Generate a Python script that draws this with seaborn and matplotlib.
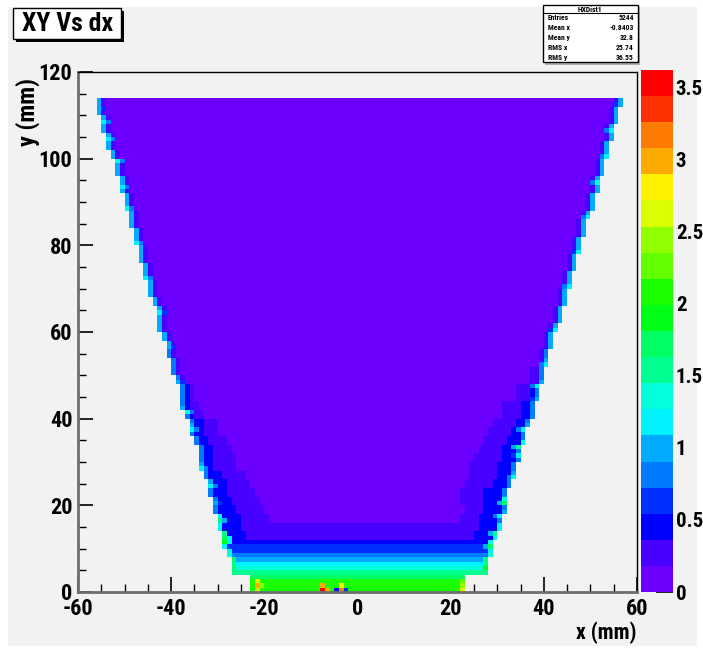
import numpy as np
import matplotlib
matplotlib.use("Agg")
import matplotlib.pyplot as plt
from matplotlib.colors import ListedColormap
from matplotlib.patches import Rectangle
from matplotlib.lines import Line2D
import seaborn as sns

# ---------------------------------------------------------------- data
# 20 contour colours of the palette, lowest to highest
band_colors = ["#6c00ff", "#4800ff", "#0000ff", "#0030ff", "#007bff",
               "#00aaff", "#00f2ff", "#00ffda", "#00ff91", "#00ff62",
               "#00ff18", "#1aff00", "#62ff00", "#91ff00", "#daff00",
               "#fff200", "#ffaa00", "#ff7a00", "#ff3000", "#ff0000"]
z_max = 3.62
cbar_ticks = [0, 0.5, 1, 1.5, 2, 2.5, 3, 3.5]
cbar_labels = ["0", "0.5", "1", "1.5", "2", "2.5", "3", "3.5"]
x_ticks = [-60, -40, -20, 0, 20, 40, 60]
x_labels = ["-60", "-40", "-20", "0", "20", "40", "60"]
y_ticks = [0, 20, 40, 60, 80, 100, 120]
y_labels = ["0", "20", "40", "60", "80", "100", "120"]

x_bin_edges = np.arange(-60, 61, 1)
y_bin_edges = np.arange(0, 115, 1)

# left / right boundary of the filled region (mm), one value per 2 mm slice
left_edge = [-22.6, -22.6, -26.8, -27.2, -27.6, -28.6, -29.0, -29.8, -30.0, -30.6,
             -31.4, -31.6, -32.3, -32.6, -33.6, -33.8, -34.2, -35.2, -36.2, -36.0,
             -36.8, -37.6, -38.0, -38.4, -39.4, -39.6, -40.2, -41.0, -41.2, -41.8,
             -42.6, -43.0, -43.4, -44.0, -44.6, -45.2, -45.6, -46.2, -46.8, -47.2,
             -47.6, -48.4, -48.8, -49.2, -49.8, -50.4, -50.8, -51.2, -52.0, -52.4,
             -52.8, -53.6, -53.8, -54.6, -55.2, -55.6, -56.2]
right_edge = [23.0, 23.4, 27.6, 28.2, 28.8, 29.2, 30.2, 30.6, 31.0, 31.8,
              32.0, 32.4, 33.0, 33.8, 34.2, 34.6, 35.4, 36.0, 36.4, 36.8,
              37.6, 37.8, 38.6, 39.2, 39.6, 40.2, 40.8, 41.4, 41.8, 42.4,
              43.0, 43.6, 44.0, 44.6, 45.2, 45.6, 46.2, 46.8, 47.4, 47.8,
              48.4, 49.0, 49.4, 50.0, 50.6, 51.0, 51.6, 52.2, 52.6, 53.2,
              53.8, 54.2, 54.8, 55.2, 55.8, 56.2, 56.6]

interior_level = 0.1
# level of the dense rows along the bottom (one per 1 mm row, from y = 0)
floor_rows = [2.05, 2.05, 2.0, 1.75, 1.55, 1.3, 1.15, 0.95, 0.8, 0.68,
              0.55, 0.42, 0.33, 0.28, 0.22, 0.19]

# side halo, one value per 4 mm slice: widths (in cells) of the
# second and of the third contour zone
halo2_left = [6, 7, 9, 10, 10.5, 10, 9, 8, 7, 5.5, 4, 2.5, 1.5, 1, 1, 0.5,
              0, 0, 0, 0, 0, 0, 0, 0, 0, 0, 0, 0, 0]
halo2_right = [6, 7, 8, 9, 9, 9.5, 10, 10, 9, 8, 7, 5, 3, 2, 1.5, 1,
               0.5, 0, 0, 0, 0, 0, 0, 0, 0, 0, 0, 0, 0]
halo3_left = [4, 4, 4, 5, 5, 4, 3.5, 3, 3, 2.5, 2, 1.5, 1, 0.5, 0, 0,
              0, 0, 0, 0, 0, 0, 0, 0, 0, 0, 0, 0, 0]
halo3_right = [4, 4, 4, 5, 5, 5, 4, 4, 3.5, 3, 2.5, 2, 1, 0.5, 0, 0,
               0, 0, 0, 0, 0, 0, 0, 0, 0, 0, 0, 0, 0]
# level at the outermost cell, one value per 8 mm slice
rim_left = [1.4, 1.2, 0.85, 0.8, 0.75, 0.8, 0.85, 0.95, 1.0, 1.0, 1.0, 1.0, 1.0, 1.0, 0.95]
rim_right = [1.4, 1.2, 0.85, 0.8, 0.75, 0.8, 0.85, 0.95, 1.0, 1.0, 1.0, 1.0, 1.0, 1.0, 0.95]
# share of the rim excess kept by the next cells inward
rim_profile = [1.0, 0.15]

# brighter cells on the boundary: (y in mm, level)
left_spots = [(111, 0.9), (108, 1.25), (104, 1.15), (99, 1.3), (93, 1.15), (88, 1.3),
              (80, 1.15), (72, 1.2), (64, 1.1), (56, 1.0), (48, 0.95), (41, 1.3),
              (37, 1.2), (28, 1.15), (24, 1.2), (20, 1.0), (16, 1.5), (12, 1.8),
              (11, 1.9), (7, 1.7), (5, 1.8)]
right_spots = [(112, 1.0), (106, 1.2), (100, 1.15), (94, 1.3), (86, 1.2), (78, 1.1),
               (70, 1.2), (60, 1.1), (52, 1.15), (47, 1.3), (44, 1.0), (37, 1.2),
               (33, 1.6), (31, 1.1), (26, 1.3), (20, 1.7), (17, 1.2), (13, 1.5),
               (10, 1.7), (7, 1.6), (5, 1.9)]
# single cells in the bottom rows: (x, y, level)
bottom_spots = [(-22, 0, 2.7), (-22, 1, 2.9), (-22, 2, 2.6), (-21, 1, 2.4),
                (22, 0, 2.6), (22, 1, 2.5), (22, 2, 2.3),
                (-8, 0, 3.55), (-8, 1, 3.0), (-7, 0, 2.9),
                (-4, 0, 3.1), (-4, 1, 2.8), (-5, 0, 0.5), (-3, 0, 0.6)]

stats_title = "HXDist1"
stats_names = ["Entries", "Mean x", "Mean y", "RMS x", "RMS y"]
stats_values = ["5244", "-0.8403", "32.8", "25.74", "36.55"]

# ------------------------------------------------------- cell levels
x_centers = x_bin_edges[:-1] + 0.5
n_rows = len(y_bin_edges) - 1
grid = np.zeros((n_rows, len(x_centers)))
row_span = {}
for r in range(n_rows):
    k, q, s = r // 2, r // 4, r // 8
    inside = np.where((x_centers >= left_edge[k]) & (x_centers <= right_edge[k]))[0]
    i0, i1 = inside[0], inside[-1]
    row_span[r] = (i0, i1)
    for c in inside:
        v = interior_level
        if r < len(floor_rows):
            v = max(v, floor_rows[r])
        for d, w2, w3, peak in ((c - i0, halo2_left[q], halo3_left[q], rim_left[s]),
                                (i1 - c, halo2_right[q], halo3_right[q], rim_right[s])):
            if d < w2:
                v = max(v, 0.27)
            if d < w3:
                v = max(v, 0.45)
            if d < len(rim_profile):
                v = max(v, interior_level + (peak - interior_level) * rim_profile[d])
        grid[r, c] = v

for spots, side in ((left_spots, 0), (right_spots, 1)):
    for y, v in spots:
        r = int(y)
        i0, i1 = row_span[r]
        c, step = (i0, 1) if side == 0 else (i1, -1)
        grid[r, c] = max(grid[r, c], v)
        grid[r, c + step] = max(grid[r, c + step], interior_level + (v - interior_level) * 0.6)
        if r + 1 < n_rows:
            j0, j1 = row_span[r + 1]
            cc = j0 if side == 0 else j1
            grid[r + 1, cc] = max(grid[r + 1, cc], interior_level + (v - interior_level) * 0.8)

for x, y, v in bottom_spots:
    grid[int(y), int(x + 60)] = v

rows, cols = np.nonzero(grid)
cell_x = x_centers[cols]
cell_y = rows + 0.5
cell_w = grid[rows, cols]

# ------------------------------------------------------------ figure
sns.set_style("ticks")
plt.rcParams["font.family"] = ["Roboto Condensed", "DejaVu Sans"]
plt.rcParams["font.stretch"] = "condensed"
plt.rcParams["font.weight"] = "bold"
for key in ("text.color", "axes.labelcolor", "xtick.color", "ytick.color"):
    plt.rcParams[key] = "black"

W, H = 703, 653
fig = plt.figure(figsize=(W / 100, H / 100), dpi=100, facecolor="white")


def fx(px):
    return px / W


def fy(py):
    return 1 - py / H


canvas_gray = "#f2f2f2"
fig.add_artist(Rectangle((fx(8), fy(646)), fx(697) - fx(8), fy(7) - fy(646),
                         transform=fig.transFigure, facecolor=canvas_gray,
                         edgecolor="none", zorder=-5))

ax = fig.add_axes([fx(78), fy(592), fx(637) - fx(78), fy(72) - fy(592)])
cax = fig.add_axes([fx(641), fy(592), fx(673) - fx(641), fy(70) - fy(592)])
ax.set_facecolor(canvas_gray)

cmap = ListedColormap(band_colors)
sns.histplot(x=cell_x, y=cell_y, weights=cell_w, bins=[x_bin_edges, y_bin_edges],
             cmap=cmap, vmin=0, vmax=z_max, cbar=True, cbar_ax=cax, ax=ax)

ax.set_xlim(-60, 60)
ax.set_ylim(0, 120)
ax.set_xlabel("")
ax.set_ylabel("")
ax.set_xticks(x_ticks)
ax.set_xticklabels(x_labels)
ax.set_yticks(y_ticks)
ax.set_yticklabels(y_labels)
ax.set_xticks(np.arange(-60, 61, 5), minor=True)
ax.set_yticks(np.arange(0, 121, 5), minor=True)
ax.tick_params(which="both", direction="in", top=False, right=False, color="black",
               labelcolor="black")
ax.tick_params(which="major", length=11, width=1.2, labelsize=16, pad=4)
ax.tick_params(which="minor", length=6, width=1.0)
for lab in ax.get_xticklabels() + ax.get_yticklabels():
    lab.set_fontweight("bold")
for side in ("left", "bottom"):
    ax.spines[side].set_color("#6e6e6e")
    ax.spines[side].set_linewidth(2)
for side in ("top", "right"):
    ax.spines[side].set_color("black")
    ax.spines[side].set_linewidth(1)
    ax.spines[side].set_visible(True)

cbar = ax.collections[0].colorbar
cbar.outline.set_visible(False)
cbar.set_ticks(cbar_ticks)
cbar.set_ticklabels(cbar_labels)
cax.tick_params(direction="in", length=12, width=1.2, color="black",
                labelcolor="black", labelsize=15, pad=2)
for lab in cax.get_yticklabels():
    lab.set_fontweight("bold")

fig.text(fx(637), fy(633), "x (mm)", ha="right", va="center",
         fontsize=15.5, fontweight="bold")
fig.text(fx(28), fy(78), "y (mm)", ha="center", va="top", rotation=90,
         fontsize=17.5, fontweight="bold")

# title box with drop shadow
fig.add_artist(Rectangle((fx(16), fy(42)), fx(124) - fx(16), fy(11) - fy(42),
                         transform=fig.transFigure, facecolor="black",
                         edgecolor="none", zorder=5))
fig.add_artist(Rectangle((fx(13), fy(39)), fx(121) - fx(13), fy(8) - fy(39),
                         transform=fig.transFigure, facecolor="white",
                         edgecolor="black", linewidth=1, zorder=6))
fig.text(fx(68), fy(24), "XY Vs dx", ha="center", va="center",
         fontsize=18.5, fontweight="bold", zorder=7)

# statistics box
fig.add_artist(Rectangle((fx(545), fy(65)), fx(640) - fx(545), fy(7) - fy(65),
                         transform=fig.transFigure, facecolor="#b0b0b0",
                         edgecolor="none", zorder=5))
fig.add_artist(Rectangle((fx(543), fy(62)), fx(638) - fx(543), fy(5) - fy(62),
                         transform=fig.transFigure, facecolor="white",
                         edgecolor="black", linewidth=1, zorder=6))
fig.add_artist(Line2D([fx(543), fx(638)], [fy(13), fy(13)], transform=fig.transFigure,
                      color="black", linewidth=0.8, zorder=7))
fig.text(fx(590), fy(9), stats_title, ha="center", va="center", fontsize=5.5,
         fontweight="bold", zorder=8)
for i, (name, val) in enumerate(zip(stats_names, stats_values)):
    yy = fy(18 + i * 9.8)
    fig.text(fx(548), yy, name, ha="left", va="center", fontsize=5.5,
             fontweight="bold", zorder=8)
    fig.text(fx(634), yy, val, ha="right", va="center", fontsize=5.5,
             fontweight="bold", zorder=8)

fig.savefig("out.png", dpi=100, facecolor="white")
